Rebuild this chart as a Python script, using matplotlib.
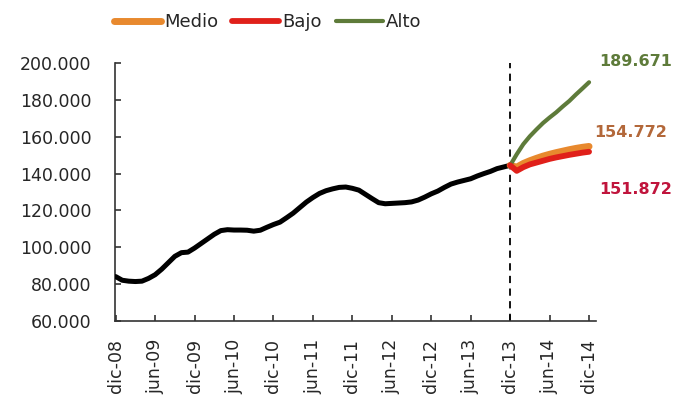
import matplotlib.pyplot as plt
import numpy as np

# monthly series, thousands of units, dic-08 .. dic-13
historico = [84.0, 82.0, 81.5, 81.3, 81.5, 83.0, 85.0, 88.0, 91.5, 95.0,
             97.0, 97.3, 99.5, 102.0, 104.5, 107.0, 109.0, 109.5, 109.3, 109.3,
             109.2, 108.7, 109.2, 110.8, 112.3, 113.6, 116.0, 118.5, 121.5, 124.5,
             127.0, 129.2, 130.7, 131.7, 132.5, 132.7, 132.0, 131.0, 128.7, 126.4,
             124.2, 123.6, 123.8, 124.0, 124.2, 124.6, 125.6, 127.2, 129.0, 130.5,
             132.5, 134.3, 135.4, 136.3, 137.2, 138.7, 140.0, 141.2, 142.7, 143.6,
             144.5]

# projections dic-13 .. dic-14
medio = [144.5, 143.5, 145.5, 147.0, 148.3, 149.5, 150.5, 151.4, 152.2, 153.0,
         153.7, 154.3, 154.772]
bajo = [144.5, 141.5, 143.5, 145.0, 146.0, 147.0, 148.0, 148.8, 149.5, 150.2,
        150.8, 151.4, 151.872]
alto = [144.5, 150.5, 156.0, 160.3, 164.0, 167.5, 170.5, 173.3, 176.5, 179.5,
        183.0, 186.3, 189.671]

tick_labels = ['dic-08', 'jun-09', 'dic-09', 'jun-10', 'dic-10', 'jun-11', 'dic-11',
               'jun-12', 'dic-12', 'jun-13', 'dic-13', 'jun-14', 'dic-14']

c_medio = '#E8892E'
c_bajo = '#E0201A'
c_alto = '#5E7B3A'
c_text = '#262626'


def miles(v):
    return '{:,.0f}'.format(v * 1000).replace(',', '.')


plt.rcParams['font.family'] = ['DejaVu Sans']

fig = plt.figure(figsize=(6.76, 4.12), dpi=100)
ax = fig.add_axes([0.1701, 0.2216, 0.711, 0.6248])

t_hist = np.arange(len(historico))
t_proy = np.arange(len(historico) - 1, len(historico) - 1 + len(medio))

ax.plot(t_hist, historico, color='black', lw=3.6, solid_capstyle='round', zorder=3)
l_medio, = ax.plot(t_proy, medio, color=c_medio, lw=5, solid_capstyle='round', zorder=4)
l_bajo, = ax.plot(t_proy, bajo, color=c_bajo, lw=4.2, solid_capstyle='round', zorder=5)
l_alto, = ax.plot(t_proy, alto, color=c_alto, lw=3.0, solid_capstyle='round', zorder=4)

ax.axvline(60, color='black', lw=1.3, ls=(0, (4, 3)), zorder=2)

ax.set_ylim(60, 200)
ax.set_xlim(-0.1, 73)
ax.set_yticks(np.arange(60, 201, 20))
ax.set_yticklabels([miles(v) for v in np.arange(60, 201, 20)], fontsize=12.5, color=c_text)
ax.set_xticks(np.arange(0, 73, 6))
ax.set_xticklabels(tick_labels, rotation=90, fontsize=12.5, color=c_text)

for s in ['top', 'right']:
    ax.spines[s].set_visible(False)
for s in ['left', 'bottom']:
    ax.spines[s].set_color('#333333')
    ax.spines[s].set_linewidth(1.2)
ax.tick_params(direction='in', length=4, width=1.2, color='#333333')
ax.tick_params(axis='y', pad=17)
ax.tick_params(axis='x', pad=13)

# end-of-period values
ax.annotate(miles(alto[-1]), xy=(t_proy[-1], alto[-1]), xytext=(7, 15), textcoords='offset points',
            color=c_alto, fontsize=11.5, fontweight='bold', ha='left', va='center', annotation_clip=False)
ax.annotate(miles(medio[-1]), xy=(t_proy[-1], medio[-1]), xytext=(4, 10), textcoords='offset points',
            color='#B3683A', fontsize=11.5, fontweight='bold', ha='left', va='center', annotation_clip=False)
ax.annotate(miles(bajo[-1]), xy=(t_proy[-1], bajo[-1]), xytext=(7, -27), textcoords='offset points',
            color='#C0143C', fontsize=11.5, fontweight='bold', ha='left', va='center', annotation_clip=False)

leg = fig.legend([l_medio, l_bajo, l_alto], ['Medio', 'Bajo', 'Alto'], loc='center',
                 bbox_to_anchor=(0.396, 0.947), ncol=3, frameon=False, fontsize=13,
                 handlelength=2.6, handletextpad=0.15, columnspacing=0.8)
for t in leg.get_texts():
    t.set_color(c_text)

fig.savefig('out.png', dpi=100)
